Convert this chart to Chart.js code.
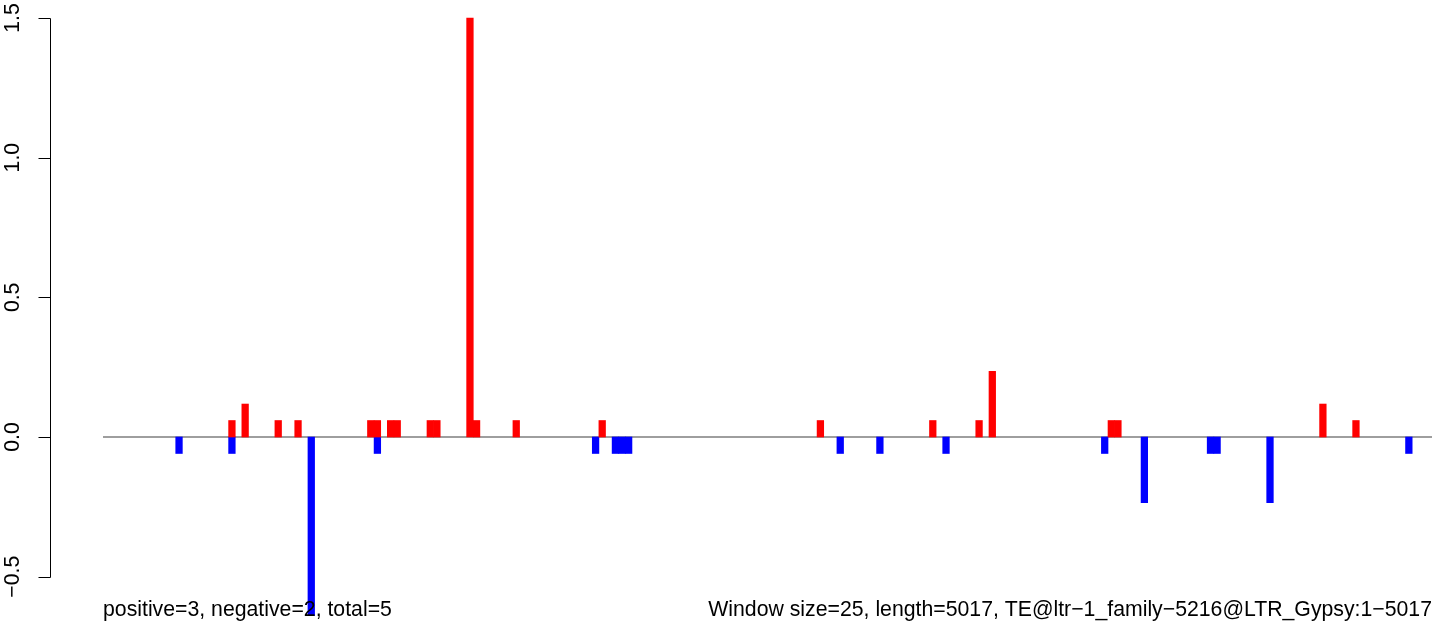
<!DOCTYPE html>
<html>
<head>
<meta charset="utf-8">
<script src="https://cdn.jsdelivr.net/npm/chart.js@4/dist/chart.umd.min.js"></script>
<style>
  html, body { margin: 0; padding: 0; background: #fff; }
  #wrap { width: 1455px; height: 626px; }
</style>
</head>
<body>
<div id="wrap"><canvas id="windowChart" width="1455" height="626"></canvas></div>
<script>
// 25 bp windows over a 5017 bp element
const windowSize = 25;
const seqLength = 5017;
const windowCount = Math.ceil(seqLength / windowSize);

// windows with positive / negative signal and their scores
const posWindows = [19, 21, 26, 29, 40, 41, 43, 44, 49, 50, 55, 56, 62, 75, 108, 125, 132, 134, 152, 153, 184, 189];
const posValues = [0.059, 0.118, 0.059, 0.059, 0.059, 0.059, 0.059, 0.059, 0.059, 0.059, 1.5, 0.059, 0.059, 0.059, 0.059, 0.059, 0.059, 0.235, 0.059, 0.059, 0.118, 0.059];
const negWindows = [11, 19, 31, 41, 74, 77, 78, 79, 111, 117, 127, 151, 157, 167, 168, 176, 197];
const negValues = [-0.059, -0.059, -0.64, -0.059, -0.059, -0.059, -0.059, -0.059, -0.059, -0.059, -0.059, -0.059, -0.235, -0.059, -0.059, -0.235, -0.059];

const yTicks = [-0.5, 0, 0.5, 1.0, 1.5];
const summaryText = "positive=3, negative=2, total=5";
const infoText = "Window size=25, length=5017, TE@ltr\u22121_family\u22125216@LTR_Gypsy:1\u22125017";

const labels = [];
for (let i = 0; i < windowCount; i++) {
  labels.push((i * windowSize + 1) + "-" + Math.min((i + 1) * windowSize, seqLength));
}
function fillSeries(idx, vals) {
  const out = new Array(windowCount).fill(null);
  idx.forEach((w, k) => { out[w] = vals[k]; });
  return out;
}

const FONT = '"Liberation Sans", Arial, Helvetica, sans-serif';

// zero line, R style y axis and the two captions
const rAxes = {
  id: "rAxes",
  beforeDatasetsDraw(chart) {
    const { ctx, chartArea, scales } = chart;
    const y0 = scales.y.getPixelForValue(0);
    ctx.save();
    ctx.strokeStyle = "#9e9e9e";
    ctx.lineWidth = 2;
    ctx.beginPath();
    ctx.moveTo(chartArea.left, y0);
    ctx.lineTo(chartArea.right, y0);
    ctx.stroke();
    ctx.restore();
  },
  afterDraw(chart) {
    const { ctx, chartArea, scales } = chart;
    const y = scales.y;
    const axisX = 50.5;
    ctx.save();
    ctx.strokeStyle = "#000";
    ctx.lineWidth = 1;
    ctx.beginPath();
    ctx.moveTo(axisX, Math.round(y.getPixelForValue(yTicks[0])) + 0.5);
    ctx.lineTo(axisX, Math.round(y.getPixelForValue(yTicks[yTicks.length - 1])) + 0.5);
    yTicks.forEach(t => {
      const py = Math.round(y.getPixelForValue(t)) + 0.5;
      ctx.moveTo(axisX, py);
      ctx.lineTo(axisX - 12, py);
    });
    ctx.stroke();

    ctx.fillStyle = "#000";
    ctx.font = "21.25px " + FONT;
    ctx.textAlign = "center";
    ctx.textBaseline = "middle";
    yTicks.forEach(t => {
      ctx.save();
      ctx.translate(13, y.getPixelForValue(t));
      ctx.rotate(-Math.PI / 2);
      ctx.fillText(t.toFixed(1).replace("-", "\u2212"), 0, 0);
      ctx.restore();
    });

    ctx.textBaseline = "alphabetic";
    ctx.textAlign = "left";
    ctx.fillText(summaryText, chartArea.left, 616);
    ctx.textAlign = "right";
    ctx.fillText(infoText, chartArea.right, 616);
    ctx.restore();
  }
};

new Chart(document.getElementById("windowChart").getContext("2d"), {
  type: "bar",
  data: {
    labels: labels,
    datasets: [
      { label: "positive", data: fillSeries(posWindows, posValues), backgroundColor: "#ff0000" },
      { label: "negative", data: fillSeries(negWindows, negValues), backgroundColor: "#0000ff" }
    ]
  },
  options: {
    responsive: false,
    animation: false,
    layout: { padding: { left: 103, right: 23, top: 0, bottom: 0 } },
    datasets: { bar: { barPercentage: 1, categoryPercentage: 1, borderWidth: 0 } },
    plugins: { legend: { display: false }, tooltip: { enabled: false } },
    scales: {
      x: { stacked: true, display: false, grid: { display: false } },
      y: { stacked: true, display: false, min: -0.6766, max: 1.5644, grid: { display: false } }
    }
  },
  plugins: [rAxes]
});
</script>
</body>
</html>
